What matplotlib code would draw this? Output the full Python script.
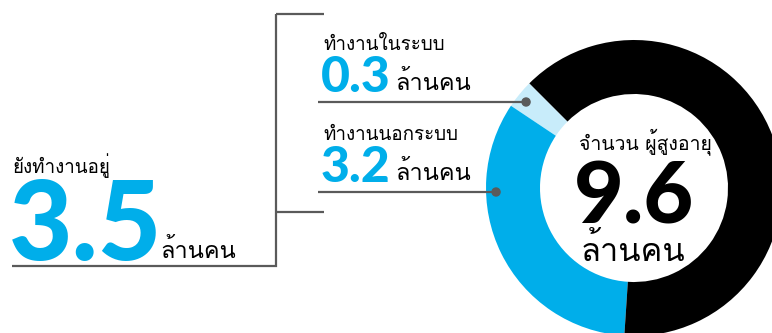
import matplotlib
matplotlib.use("Agg")
import matplotlib.pyplot as plt
from matplotlib import font_manager
from matplotlib.ft2font import FT2Font
from matplotlib.patches import Wedge, Circle

W, H = 772, 333

# Elderly population (million people)
total_elderly = 9.6
segment_labels = ["ทำงานในระบบ", "ทำงานนอกระบบ"]
segment_values = [0.3, 3.2]
working_label = "ยังทำงานอยู่"
center_label = "จำนวน ผู้สูงอายุ"
unit_label = "ล้านคน"

BLUE = "#00aeea"
LIGHT = "#c8ecfa"
LINE = "#5a5a5a"


def find_thai_family():
    for f in font_manager.fontManager.ttflist:
        try:
            if FT2Font(f.fname).get_char_index(0x0E17):
                return f.name
        except Exception:
            continue
    return "DejaVu Sans"


THAI = [find_thai_family(), "DejaVu Sans"]
NUM = ["Lato", "DejaVu Sans"]


def py(y):
    # layout is measured from the top edge
    return H - y


fig = plt.figure(figsize=(W / 100, H / 100), dpi=100)
ax = fig.add_axes([0, 0, 1, 1])
ax.set_xlim(0, W)
ax.set_ylim(0, H)
ax.set_aspect("equal")
ax.axis("off")

# donut
cx, cy, r_out, r_in = 634, py(188), 148, 94
start = 135.0
values = segment_values + [total_elderly - sum(segment_values)]
colors = [LIGHT, BLUE, "black"]
a = start
for v, c in zip(values, colors):
    span = v / total_elderly * 360
    ax.add_patch(Wedge((cx, cy), r_out, a, a + span, width=r_out - r_in,
                       facecolor=c, edgecolor="none"))
    a += span

# bracket around the working groups
ax.plot([12, 276, 276], [py(266), py(266), py(14)], color=LINE, lw=1.6,
        solid_capstyle="butt", solid_joinstyle="miter")
ax.plot([276, 324], [py(14), py(14)], color=LINE, lw=1.6, solid_capstyle="butt")
ax.plot([276, 324], [py(212), py(212)], color=LINE, lw=1.6, solid_capstyle="butt")

# left: total still working
ax.text(12, py(173), working_label, family=THAI, fontsize=13.5, color="black")
ax.text(9, py(260), f"{sum(segment_values):.1f}", family=NUM, fontsize=79,
        fontweight="black", color=BLUE)
ax.text(160, py(258), unit_label, family=THAI, fontsize=17, color="black")

# groups with leader lines to the ring
label_base = [50, 140]
num_base = [92, 182]
leader_y = [102, 192]
r_dot = 138
for lab, val, lb, nb, ly in zip(segment_labels, segment_values, label_base,
                                num_base, leader_y):
    ax.text(323, py(lb), lab, family=THAI, fontsize=13.5, color="black")
    ax.text(321, py(nb), f"{val:.1f}", family=NUM, fontsize=36,
            fontweight="black", color=BLUE)
    ax.text(395, py(nb - 2), unit_label, family=THAI, fontsize=17, color="black")
    dy = py(ly) - cy
    xd = cx - (r_dot ** 2 - dy ** 2) ** 0.5
    ax.plot([318, xd], [py(ly), py(ly)], color=LINE, lw=1.6, solid_capstyle="butt")
    ax.add_patch(Circle((xd, py(ly)), 4, color=LINE, zorder=5))

# centre text
ax.text(645, py(149), center_label, family=THAI, fontsize=14, color="black",
        ha="center", fontweight="medium")
ax.text(634, py(223), f"{total_elderly:.1f}", family=NUM, fontsize=62,
        fontweight="black", color="black", ha="center")
ax.text(633, py(261), unit_label, family=THAI, fontsize=23.5, color="black",
        ha="center")

fig.savefig("out.png", dpi=100, facecolor="white")
